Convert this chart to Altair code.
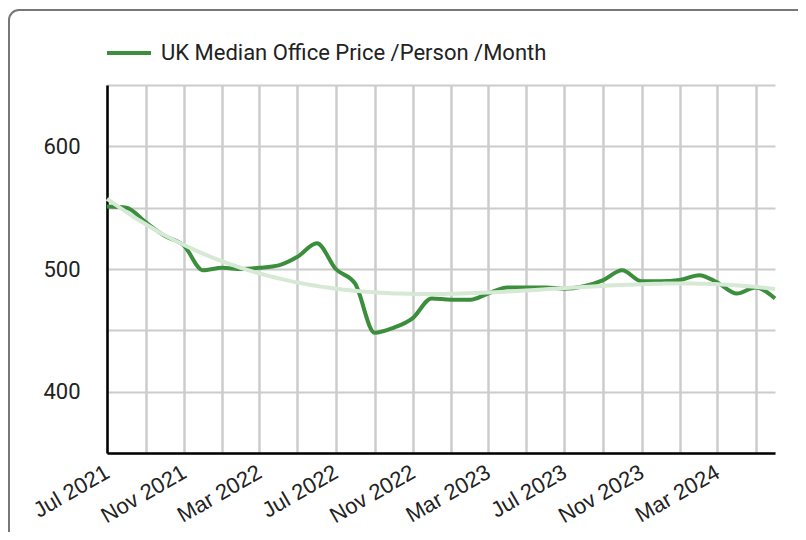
import altair as alt
import pandas as pd

# ---- data ----
start_month = "2021-07-01"
n_months = 36
prices = [551, 550, 538, 527, 519, 499, 501, 500, 501, 503, 510, 521,
          500, 488, 448, 452, 460, 476, 475, 475, 480, 485, 485, 485,
          484, 486, 491, 499, 490, 490, 491, 495, 489, 480, 485, 476]
series_name = "UK Median Office Price /Person /Month"

dates = pd.date_range(start_month, periods=n_months, freq="MS")
df = pd.DataFrame({
    "date": dates.strftime("%Y-%m-%d"),
    "idx": list(range(n_months)),
    "value": prices,
    "series": series_name,
})

W, H = 668, 368
GREEN = "#3a8e3c"
TREND = "#d6e9d5"

grid_dates = [alt.DateTime(year=d.year, month=d.month, date=1, utc=True)
              for d in dates[::2]]

x_axis = alt.Axis(
    values=grid_dates,
    labelExpr="(utcmonth(datum.value) + 2) % 4 == 0 ? utcFormat(datum.value, '%b %Y') : ''",
    labelAngle=-30, labelAlign="right", labelBaseline="middle",
    labelPadding=17, labelOffset=0, labelFont="Liberation Sans", labelFontSize=22,
    labelColor="#222222", ticks=False, grid=True, gridColor="#cccccc",
    gridWidth=2.5, domainColor="#000000", domainWidth=2.5, title=None,
    labelOverlap=False, labelFlush=False, labelBound=False,
)
y_axis = alt.Axis(
    values=[350, 400, 450, 500, 550, 600, 650],
    labelExpr="datum.value % 100 == 0 ? datum.label : ''",
    labelFont="Roboto", labelFontSize=22, labelColor="#222222",
    labelPadding=27, ticks=False, grid=True, gridColor="#cccccc",
    gridWidth=2, domainColor="#000000", domainWidth=2.5, title=None,
)

x_scale = alt.Scale(type="utc", domain=[alt.DateTime(year=2021, month=7, date=1, utc=True),
                                        alt.DateTime(year=2024, month=6, date=1, utc=True)], nice=False)
y_scale = alt.Scale(domain=[350, 650], nice=False, zero=False)

base = alt.Chart(df)

line = base.mark_line(strokeWidth=4, interpolate="monotone").encode(
    x=alt.X("date:T", scale=x_scale, axis=x_axis),
    y=alt.Y("value:Q", scale=y_scale, axis=y_axis),
    color=alt.Color("series:N", scale=alt.Scale(range=[GREEN]),
                    legend=alt.Legend(
                        title=None, orient="none", legendX=-2, legendY=-56,
                        symbolType="stroke", symbolSize=1936, symbolStrokeWidth=4,
                        labelFont="Roboto", labelFontSize=22, labelColor="#222222",
                        labelOffset=8, labelLimit=0, padding=0)),
)

last = n_months - 1
trend = base.transform_regression(
    "idx", "value", method="poly", order=3
).transform_calculate(
    date=f"utc(2021,6,1) + datum.idx / {last} * (utc(2024,5,1) - utc(2021,6,1))"
).mark_line(strokeWidth=4, color=TREND).encode(
    x=alt.X("date:T", scale=x_scale, axis=x_axis),
    y=alt.Y("value:Q", scale=y_scale, axis=y_axis),
)

border = alt.Chart(alt.Data(values=[{}])).mark_rect(
    filled=False, stroke="#777777", strokeWidth=2, cornerRadius=10
).encode(
    x=alt.value(-98), x2=alt.value(720), y=alt.value(-75), y2=alt.value(470)
)

chart = alt.layer(line, trend, border).properties(
    width=W, height=H,
    autosize=alt.AutoSizeParams(type="none"),
    padding={"left": 99, "top": 77, "right": 23, "bottom": 79},
    background="white",
).configure_view(stroke=None)

chart.save("out.html", embed_options={"renderer": "svg", "actions": False})
